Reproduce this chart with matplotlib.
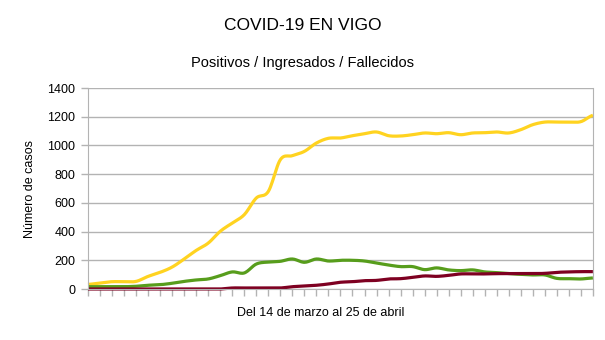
import matplotlib
matplotlib.use("Agg")
import matplotlib.pyplot as plt
import numpy as np

plt.rcParams["font.family"] = ["Liberation Sans", "DejaVu Sans"]

# daily counts, 14 March - 25 April
positivos = [32, 42, 51, 51, 53, 88, 116, 153, 209, 269, 320, 402, 460, 518, 634,
             680, 901, 929, 959, 1017, 1050, 1052, 1068, 1082, 1094, 1068, 1066,
             1075, 1087, 1082, 1089, 1075, 1087, 1089, 1094, 1087, 1110, 1145,
             1163, 1163, 1163, 1166, 1210]
ingresados = [16, 16, 16, 16, 19, 26, 30, 40, 53, 63, 70, 93, 119, 112, 174, 188,
              193, 209, 186, 209, 195, 200, 200, 195, 181, 167, 156, 156, 135, 147,
              133, 128, 133, 119, 114, 107, 102, 98, 98, 74, 72, 70, 77]
fallecidos = [0, 0, 0, 0, 0, 0, 0, 0, 0, 0, 0, 0, 7, 7, 7, 7, 7, 16, 21, 26, 35,
              47, 51, 58, 60, 70, 72, 81, 91, 88, 95, 105, 105, 105, 107, 107, 107,
              107, 109, 116, 119, 121, 121]


def smooth(y, steps=12):
    # Catmull-Rom spline through the daily points
    y = np.asarray(y, dtype=float)
    p = np.concatenate([[y[0]], y, [y[-1]]])
    xs, ys = [], []
    for i in range(len(y) - 1):
        p0, p1, p2, p3 = p[i], p[i + 1], p[i + 2], p[i + 3]
        t = np.linspace(0, 1, steps, endpoint=False)
        seg = 0.5 * ((2 * p1) + (-p0 + p2) * t + (2 * p0 - 5 * p1 + 4 * p2 - p3) * t ** 2
                     + (-p0 + 3 * p1 - 3 * p2 + p3) * t ** 3)
        xs.append(i + t)
        ys.append(seg)
    xs.append([len(y) - 1])
    ys.append([y[-1]])
    return np.concatenate(xs), np.concatenate(ys)


fig = plt.figure(figsize=(6.05, 3.40), dpi=100)
ax = fig.add_axes([0.1455, 0.15, 0.8345, 0.591])

for serie, color in [(positivos, "#ffd320"), (ingresados, "#579d1c"), (fallecidos, "#7e0021")]:
    x, y = smooth(serie)
    ax.plot(x, y, color=color, linewidth=2.3, solid_capstyle="butt", clip_on=False)

ax.set_xlim(0, len(positivos) - 1)
ax.set_ylim(0, 1400)
ax.set_yticks(range(0, 1401, 200))
ax.set_xticks(range(len(positivos)))
ax.set_xticklabels([])
ax.grid(axis="y", color="#b3b3b3", linewidth=1)
ax.set_axisbelow(True)
for s in ax.spines.values():
    s.set_color("#b3b3b3")
ax.spines["top"].set_visible(False)
ax.tick_params(axis="both", color="#b3b3b3", length=5, width=1, labelsize=9, pad=4)
ax.tick_params(axis="x", direction="out")

ax.set_ylabel("Número de casos", fontsize=9)
ax.yaxis.set_label_coords(-0.115, 0.5)
ax.set_xlabel("Del 14 de marzo al 25 de abril", fontsize=9)
ax.xaxis.set_label_coords(0.461, -0.12)
ax.xaxis.label.set_va("center")
ax.yaxis.label.set_va("center")
fig.text(0.5, 0.925, "COVID-19 EN VIGO", ha="center", va="center", fontsize=12.5)
fig.text(0.5, 0.815, "Positivos / Ingresados / Fallecidos", ha="center", va="center", fontsize=10.5)

fig.savefig("out.png", dpi=100)
